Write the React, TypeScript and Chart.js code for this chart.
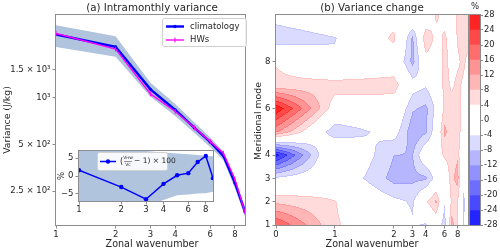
import React, { useEffect, useRef } from "react";
import { Chart, registerables } from "chart.js";
Chart.register(...registerables);

const FONT = "'DejaVu Sans', sans-serif";
const TEXT = "#262626";
const FRAME = "#8c8c8c";
const BAND = "#b0c4de";

// ---------------- Panel (a) ----------------
const zonalWavenumbers = [1, 2, 3, 4, 5, 6, 7, 8, 9];
const climatologyVar = [2527, 2104, 1125, 830, 637, 518, 422, 283, 185];
const hwsVar = [2567, 2039, 1052, 812, 638, 522, 438, 299, 184];
const climBandLower = [2104, 1817, 1009, 760, 590, 480, 395, 262, 172];
const climBandUpper = [2897, 2465, 1240, 905, 690, 555, 450, 305, 198];
const xTicksA = [1, 2, 3, 4, 6, 8];
const yTicksA = [250, 500, 1000, 1500];
const yTickLabelsA = ["2.5 × 10²", "5 × 10²", "10³", "1.5 × 10³"];

// inset of panel (a)
const ratioPct = [1.6, -3.1, -6.5, -2.2, 0.2, 0.8, 3.9, 5.6, -0.6];
const ratioBandLower = [-9, -9, -8.5, -6.7, -5.4, -5.2, -4.9, -4.8, -4.4];
const ratioBandUpper = [8, 7.5, 7, 6.6, 6.3, 6.1, 5.9, 5.7, 5.5];
const yTicksInset = [-5, 0, 5];
const yTickLabelsInset = ["−5", "0", "5"];

// ---------------- Panel (b) ----------------
const zonalWavenumbersB = [0, 1, 2, 3, 4, 5, 6, 7, 8, 9, 10];
const meridionalModes = [1, 2, 3, 4, 5, 6, 7, 8, 9, 10];
const changeMode1 = [20, 4.5, 0, -3.5, -4.6, 0, -7, 10, 5, -4.2, -2];
const changeMode2 = [7.2, 4.2, -3, -4.66, 3.5, 9, -3.5, 5, 4.4, -4.8, -3];
const changeMode3 = [-3.5, 1, -9.5, -9, -9, -2, -1, 7, 10, -3, 0];
const changeMode4 = [-26, 4, -8, -8.3, 1, 1, 5, 6, 7.5, -4.3, 0];
const changeMode5 = [13, -7, -2, -11, -9, -1, 9, 6, 6, 2, 0];
const changeMode6 = [27.5, 1.5, 1, -7.5, -9, -3, 5.5, 5.5, 5, 3, 2];
const changeMode7 = [5.2, 6, 6, -2, -3.5, 0, 5.5, 3.5, 5, 3.5, 2];
const changeMode8 = [3.7, -3, 0.7, -9.5, 1.7, 1, 5.5, 2.5, 3.5, 5, 3];
const changeMode9 = [-7.3, -4.3, 5, -9, 8.2, 2.2, 5, 2, 4.5, 5.5, 5.5];
const changeMode10 = [-1.8, 1, 1.67, 3, -2.3, 5, 2, 1, 5, 6, 5.5];
const contourLevels = [-28, -24, -20, -16, -12, -8, -4, 0, 4, 8, 12, 16, 20, 24, 28];
const xTicksB = [0, 1, 2, 3, 4, 6, 8];
const yTicksB = [1, 2, 3, 4, 6, 8];

const changeGrid = [
  changeMode1, changeMode2, changeMode3, changeMode4, changeMode5,
  changeMode6, changeMode7, changeMode8, changeMode9, changeMode10,
];

// symlog (linthresh 2, linscale 1, base 10) used for panel (b) x axis
const LIN_ADJ = 1 / (1 - 1 / 10);
const LINTHRESH = 2;
function symlog(k: number) {
  return k <= LINTHRESH ? k * LIN_ADJ : LINTHRESH * (LIN_ADJ + Math.log10(k / LINTHRESH));
}
function symlogInv(u: number) {
  const t = LINTHRESH * LIN_ADJ;
  return u <= t ? u / LIN_ADJ : LINTHRESH * Math.pow(10, u / LINTHRESH - LIN_ADJ);
}

function zAt(k: number, m: number) {
  const nx = zonalWavenumbersB.length, ny = meridionalModes.length;
  const kx = Math.max(zonalWavenumbersB[0], Math.min(zonalWavenumbersB[nx - 1], k));
  const my = Math.max(meridionalModes[0], Math.min(meridionalModes[ny - 1], m));
  let i = 0;
  while (i < nx - 2 && kx > zonalWavenumbersB[i + 1]) i++;
  let j = 0;
  while (j < ny - 2 && my > meridionalModes[j + 1]) j++;
  const fx = (kx - zonalWavenumbersB[i]) / (zonalWavenumbersB[i + 1] - zonalWavenumbersB[i]);
  const fy = (my - meridionalModes[j]) / (meridionalModes[j + 1] - meridionalModes[j]);
  const g = changeGrid;
  return (
    (1 - fx) * (1 - fy) * g[j][i] + fx * (1 - fy) * g[j][i + 1] +
    (1 - fx) * fy * g[j + 1][i] + fx * fy * g[j + 1][i + 1]
  );
}

function bwr(v: number): number[] {
  v = Math.max(0, Math.min(1, v));
  if (v < 0.5) { const c = Math.round(510 * v); return [c, c, 255]; }
  const c = Math.round(510 * (1 - v));
  return [255, c, c];
}
const LMAX = contourLevels[contourLevels.length - 1];
const ZERO_BAND = contourLevels.indexOf(0);
function bandInner(b: number) {
  const lo = contourLevels[b], hi = contourLevels[b + 1];
  return lo >= 0 ? lo : hi;
}
function bandFill(b: number) {
  return bwr(0.5 + bandInner(b) / (2 * LMAX));
}
function bandEdge(b: number) {
  const inner = bandInner(b);
  const s = b >= ZERO_BAND ? 1 : -1;
  return bwr(0.5 + (inner + s * 2.5) / (2 * LMAX));
}
function bandRank(b: number) {
  return b >= ZERO_BAND ? b - ZERO_BAND : ZERO_BAND - 1 - b;
}
const rgb = (c: number[]) => `rgb(${c[0]},${c[1]},${c[2]})`;

function drawText(ctx: CanvasRenderingContext2D, s: string, x: number, y: number, size: number, align: CanvasTextAlign = "center", rotate = 0) {
  ctx.save();
  ctx.font = `${size}px ${FONT}`;
  ctx.fillStyle = TEXT;
  ctx.textAlign = align;
  ctx.textBaseline = "middle";
  ctx.translate(x, y);
  if (rotate) ctx.rotate(rotate);
  ctx.fillText(s, 0, 0);
  ctx.restore();
}

function frame(chart: any) {
  const { ctx, chartArea: ca } = chart;
  ctx.save();
  ctx.strokeStyle = FRAME;
  ctx.lineWidth = 1;
  ctx.strokeRect(Math.round(ca.left) - 0.5, Math.round(ca.top) - 0.5, Math.round(ca.right - ca.left) + 1, Math.round(ca.bottom - ca.top) + 1);
  ctx.restore();
}

function roundRect(ctx: CanvasRenderingContext2D, x: number, y: number, w: number, h: number, r: number) {
  ctx.beginPath();
  ctx.moveTo(x + r, y);
  ctx.lineTo(x + w - r, y);
  ctx.quadraticCurveTo(x + w, y, x + w, y + r);
  ctx.lineTo(x + w, y + h - r);
  ctx.quadraticCurveTo(x + w, y + h, x + w - r, y + h);
  ctx.lineTo(x + r, y + h);
  ctx.quadraticCurveTo(x, y + h, x, y + h - r);
  ctx.lineTo(x, y + r);
  ctx.quadraticCurveTo(x, y, x + r, y);
  ctx.closePath();
}

const pts = (xs: number[], ys: number[]) => xs.map((x, i) => ({ x, y: ys[i] }));

const tickFont = { family: FONT, size: 8.5 };
const gridTicks = { drawOnChartArea: false, drawTicks: true, tickLength: 3.5, color: FRAME };

export default function App() {
  const mainRef = useRef<HTMLCanvasElement>(null);
  const insetRef = useRef<HTMLCanvasElement>(null);
  const bRef = useRef<HTMLCanvasElement>(null);
  const cbRef = useRef<HTMLCanvasElement>(null);

  useEffect(() => {
    const charts: Chart[] = [];

    // ---------- main panel (a)
    const decorA = {
      id: "decorA",
      afterDraw(chart: any) {
        const ctx = chart.ctx as CanvasRenderingContext2D;
        frame(chart);
        drawText(ctx, "(a) Intramonthly variance", 152, 8, 10.3);
        drawText(ctx, "Zonal wavenumber", 152, 244, 9.6);
        drawText(ctx, "Variance (J/kg)", 8, 120, 9.3, "center", -Math.PI / 2);
        // legend
        ctx.save();
        roundRect(ctx, 162.5, 18.5, 84, 28, 2);
        ctx.fillStyle = "rgba(255,255,255,0.85)";
        ctx.fill();
        ctx.strokeStyle = "#d0d0d0";
        ctx.lineWidth = 1;
        ctx.stroke();
        ctx.lineWidth = 2.4;
        ctx.strokeStyle = "#0000ff";
        ctx.beginPath(); ctx.moveTo(166, 26.5); ctx.lineTo(184, 26.5); ctx.stroke();
        ctx.fillStyle = "#0000ff";
        ctx.beginPath(); ctx.arc(175, 26.5, 1.8, 0, Math.PI * 2); ctx.fill();
        ctx.lineWidth = 1.4;
        ctx.strokeStyle = "#ff00ff";
        ctx.beginPath(); ctx.moveTo(166, 40); ctx.lineTo(184, 40); ctx.stroke();
        ctx.lineWidth = 1;
        ctx.beginPath(); ctx.moveTo(175, 37.5); ctx.lineTo(175, 42.5); ctx.stroke();
        ctx.restore();
        drawText(ctx, "climatology", 190, 26.5, 8.5, "left");
        drawText(ctx, "HWs", 190, 40, 8.5, "left");
      },
    };
    charts.push(new Chart(mainRef.current!, {
      type: "line",
      data: {
        datasets: [
          { data: pts(zonalWavenumbers, climBandLower), order: 4, borderWidth: 0, pointRadius: 0, fill: false, borderColor: "rgba(0,0,0,0)" },
          { data: pts(zonalWavenumbers, climBandUpper), order: 3, borderWidth: 0, pointRadius: 0, fill: "-1", backgroundColor: BAND, borderColor: "rgba(0,0,0,0)" },
          { data: pts(zonalWavenumbers, climatologyVar), order: 2, borderColor: "#0000ff", borderWidth: 2.4, pointRadius: 1.6, pointBackgroundColor: "#0000ff", pointBorderWidth: 0, fill: false },
          { data: pts(zonalWavenumbers, hwsVar), order: 1, borderColor: "#ff00ff", borderWidth: 1.4, pointStyle: "line", pointRotation: 90, pointRadius: 2.5, pointBorderColor: "#ff00ff", pointBorderWidth: 1, fill: false },
        ] as any,
      },
      options: {
        responsive: false, animation: false, devicePixelRatio: 1, maintainAspectRatio: false,
        layout: { padding: { left: 0, top: 15, right: 2, bottom: 0 } },
        plugins: { legend: { display: false }, tooltip: { enabled: false } },
        elements: { line: { tension: 0 } },
        scales: {
          x: {
            type: "logarithmic", min: 1, max: 9,
            afterBuildTicks: (s: any) => { s.ticks = xTicksA.map((v) => ({ value: v })); },
            afterFit: (s: any) => { s.height = 26; },
            ticks: { callback: (v: any) => String(v), autoSkip: false, maxRotation: 0, font: tickFont, color: TEXT, padding: 1 },
            grid: gridTicks, border: { display: false },
          },
          y: {
            type: "logarithmic", min: 152, max: 3370,
            afterBuildTicks: (s: any) => { s.ticks = yTicksA.map((v) => ({ value: v })); },
            afterFit: (s: any) => { s.width = 56; },
            ticks: { callback: (_v: any, i: number) => yTickLabelsA[i], autoSkip: false, font: tickFont, color: TEXT, padding: 2 },
            grid: gridTicks, border: { display: false },
          },
        },
      } as any,
      plugins: [decorA],
    }));

    // ---------- inset
    const decorInset = {
      id: "decorInset",
      beforeDraw(chart: any) {
        const { ctx, chartArea: ca } = chart;
        ctx.save();
        ctx.fillStyle = "#ffffff";
        ctx.fillRect(ca.left, ca.top, ca.right - ca.left, ca.bottom - ca.top);
        ctx.restore();
      },
      afterDraw(chart: any) {
        const ctx = chart.ctx as CanvasRenderingContext2D;
        frame(chart);
        drawText(ctx, "%", 22, 36, 8.5, "center", -Math.PI / 2);
        ctx.save();
        roundRect(ctx, 57.5, 12.5, 70, 18, 2);
        ctx.fillStyle = "rgba(255,255,255,0.9)";
        ctx.fill();
        ctx.strokeStyle = "#d0d0d0";
        ctx.lineWidth = 1;
        ctx.stroke();
        ctx.strokeStyle = "#0000ff";
        ctx.lineWidth = 1.5;
        ctx.beginPath(); ctx.moveTo(60, 21.5); ctx.lineTo(76, 21.5); ctx.stroke();
        ctx.fillStyle = "#0000ff";
        ctx.beginPath(); ctx.arc(68, 21.5, 2.2, 0, Math.PI * 2); ctx.fill();
        ctx.restore();
        drawText(ctx, "(", 80, 21.5, 8, "left");
        drawText(ctx, "Vʜᴡ", 88, 18, 4.5, "center");
        ctx.save();
        ctx.strokeStyle = TEXT; ctx.lineWidth = 0.5;
        ctx.beginPath(); ctx.moveTo(84, 21.5); ctx.lineTo(92, 21.5); ctx.stroke();
        ctx.restore();
        drawText(ctx, "Vᴄ", 88, 25, 4.5, "center");
        drawText(ctx, "− 1) × 100", 94, 21.5, 7.5, "left");
      },
    };
    charts.push(new Chart(insetRef.current!, {
      type: "line",
      data: {
        datasets: [
          { data: pts(zonalWavenumbers, ratioBandLower), order: 3, borderWidth: 0, pointRadius: 0, fill: false, borderColor: "rgba(0,0,0,0)" },
          { data: pts(zonalWavenumbers, ratioBandUpper), order: 2, borderWidth: 0, pointRadius: 0, fill: "-1", backgroundColor: BAND, borderColor: "rgba(0,0,0,0)" },
          { data: pts(zonalWavenumbers, ratioPct), order: 1, borderColor: "#0000ff", borderWidth: 1.5, pointRadius: 2.2, pointBackgroundColor: "#0000ff", pointBorderWidth: 0, fill: false },
        ] as any,
      },
      options: {
        responsive: false, animation: false, devicePixelRatio: 1, maintainAspectRatio: false,
        layout: { padding: { left: 0, top: 11, right: 7, bottom: 0 } },
        plugins: { legend: { display: false }, tooltip: { enabled: false } },
        elements: { line: { tension: 0 } },
        scales: {
          x: {
            type: "logarithmic", min: 1, max: 9,
            afterBuildTicks: (s: any) => { s.ticks = xTicksA.map((v) => ({ value: v })); },
            afterFit: (s: any) => { s.height = 19; },
            ticks: { callback: (v: any) => String(v), autoSkip: false, maxRotation: 0, font: tickFont, color: TEXT, padding: 0 },
            grid: gridTicks, border: { display: false },
          },
          y: {
            type: "linear", min: -7, max: 7,
            afterBuildTicks: (s: any) => { s.ticks = yTicksInset.map((v) => ({ value: v })); },
            afterFit: (s: any) => { s.width = 39; },
            ticks: { callback: (_v: any, i: number) => yTickLabelsInset[i], autoSkip: false, font: tickFont, color: TEXT, padding: 2 },
            grid: gridTicks, border: { display: false },
          },
        },
      } as any,
      plugins: [decorInset],
    }));

    // ---------- panel (b)
    const contourPlugin = {
      id: "contourFill",
      beforeDatasetsDraw(chart: any) {
        const { ctx, chartArea: ca, scales } = chart;
        const xs = scales.x, ys = scales.y;
        const x0 = Math.round(ca.left), y0 = Math.round(ca.top);
        const w = Math.round(ca.right) - x0, h = Math.round(ca.bottom) - y0;
        const nb = contourLevels.length - 1;
        const bands = new Int16Array(w * h);
        for (let j = 0; j < h; j++) {
          const m = ys.getValueForPixel(y0 + j + 0.5);
          for (let i = 0; i < w; i++) {
            const k = symlogInv(xs.getValueForPixel(x0 + i + 0.5));
            const z = zAt(k, m);
            let b = -1;
            if (z >= contourLevels[0] && z <= contourLevels[nb]) {
              b = Math.min(nb - 1, Math.floor((z - contourLevels[0]) / (contourLevels[1] - contourLevels[0])));
            }
            bands[j * w + i] = b;
          }
        }
        const img = ctx.createImageData(w, h);
        const d = img.data;
        for (let j = 0; j < h; j++) {
          for (let i = 0; i < w; i++) {
            const b = bands[j * w + i];
            let c = [255, 255, 255];
            if (b >= 0) {
              const r = bandRank(b);
              let edge = false;
              if (r > 0) {
                const nbrs = [[i - 1, j], [i + 1, j], [i, j - 1], [i, j + 1]];
                for (const [ii, jj] of nbrs) {
                  if (ii < 0 || jj < 0 || ii >= w || jj >= h) continue;
                  const b2 = bands[jj * w + ii];
                  const r2 = b2 < 0 ? 0 : bandRank(b2);
                  if (r2 < r) { edge = true; break; }
                }
              }
              c = edge ? bandEdge(b) : bandFill(b);
            }
            const p = (j * w + i) * 4;
            d[p] = c[0]; d[p + 1] = c[1]; d[p + 2] = c[2]; d[p + 3] = 255;
          }
        }
        ctx.putImageData(img, x0, y0);
      },
      afterDraw(chart: any) {
        const ctx = chart.ctx as CanvasRenderingContext2D;
        frame(chart);
        drawText(ctx, "(b) Variance change", 122, 8, 10.3);
        drawText(ctx, "Zonal wavenumber", 122, 244, 9.6);
        drawText(ctx, "Meridional mode", 9, 121, 9.3, "center", -Math.PI / 2);
      },
    };
    const gridPts: { x: number; y: number }[] = [];
    meridionalModes.forEach((m) => zonalWavenumbersB.forEach((k) => gridPts.push({ x: symlog(k), y: m })));
    charts.push(new Chart(bRef.current!, {
      type: "scatter",
      data: { datasets: [{ data: gridPts, pointRadius: 0, showLine: false }] },
      options: {
        responsive: false, animation: false, devicePixelRatio: 1, maintainAspectRatio: false,
        layout: { padding: { left: 0, top: 15, right: 2, bottom: 0 } },
        plugins: { legend: { display: false }, tooltip: { enabled: false } },
        scales: {
          x: {
            type: "linear", min: 0, max: symlog(10),
            afterBuildTicks: (s: any) => { s.ticks = xTicksB.map((k) => ({ value: symlog(k) })); },
            afterFit: (s: any) => { s.height = 26; },
            ticks: { callback: (_v: any, i: number) => String(xTicksB[i]), autoSkip: false, maxRotation: 0, font: tickFont, color: TEXT, padding: 1 },
            grid: gridTicks, border: { display: false },
          },
          y: {
            type: "linear", min: 1, max: 10,
            afterBuildTicks: (s: any) => { s.ticks = yTicksB.map((v) => ({ value: v })); },
            afterFit: (s: any) => { s.width = 26; },
            ticks: { callback: (_v: any, i: number) => String(yTicksB[i]), autoSkip: false, font: tickFont, color: TEXT, padding: 2 },
            grid: gridTicks, border: { display: false },
          },
        },
      } as any,
      plugins: [contourPlugin],
    }));

    // ---------- colorbar
    const cbDatasets: any[] = [];
    for (let b = ZERO_BAND; b < contourLevels.length - 1; b++) {
      cbDatasets.push({ data: [contourLevels[b + 1] - contourLevels[b]], backgroundColor: rgb(bandFill(b)), borderWidth: 0 });
    }
    for (let b = ZERO_BAND - 1; b >= 0; b--) {
      cbDatasets.push({ data: [contourLevels[b] - contourLevels[b + 1]], backgroundColor: rgb(bandFill(b)), borderWidth: 0 });
    }
    const decorCb = {
      id: "decorCb",
      afterDraw(chart: any) {
        frame(chart);
        drawText(chart.ctx, "%", 10, 7, 8.5);
      },
    };
    charts.push(new Chart(cbRef.current!, {
      type: "bar",
      data: { labels: [""], datasets: cbDatasets },
      options: {
        responsive: false, animation: false, devicePixelRatio: 1, maintainAspectRatio: false,
        layout: { padding: { left: 5, top: 15, right: 0, bottom: 26 } },
        plugins: { legend: { display: false }, tooltip: { enabled: false } },
        datasets: { bar: { barPercentage: 1, categoryPercentage: 1 } },
        scales: {
          x: { display: false, stacked: true },
          y: {
            stacked: true, position: "right", min: -28, max: 28,
            afterBuildTicks: (s: any) => { s.ticks = contourLevels.map((v) => ({ value: v })); },
            afterFit: (s: any) => { s.width = 20; },
            ticks: { callback: (v: any) => String(v), autoSkip: false, font: { family: FONT, size: 8.3 }, color: TEXT, padding: 1 },
            grid: { drawOnChartArea: false, drawTicks: true, tickLength: 3, color: FRAME }, border: { display: false },
          },
        },
      } as any,
      plugins: [decorCb],
    }));

    return () => charts.forEach((c) => c.destroy());
  }, []);

  const abs = (l: number, t: number, w: number, h: number): React.CSSProperties => ({ position: "absolute", left: l, top: t, width: w, height: h });
  return (
    <div style={{ position: "fixed", left: 0, top: 0, width: 500, height: 251, background: "#fff", overflow: "hidden" }}>
      <canvas ref={mainRef} width={250} height={251} style={abs(0, 0, 250, 251)} />
      <canvas ref={insetRef} width={180} height={80} style={abs(40, 140, 180, 80)} />
      <canvas ref={bRef} width={220} height={251} style={abs(250, 0, 220, 251)} />
      <canvas ref={cbRef} width={35} height={251} style={abs(465, 0, 35, 251)} />
    </div>
  );
}
